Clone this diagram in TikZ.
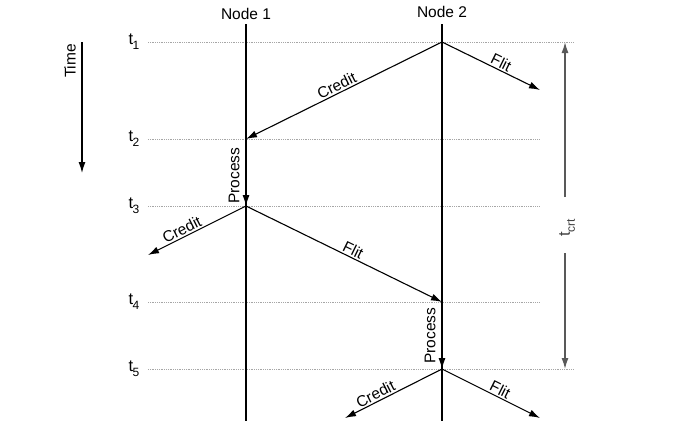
\documentclass[tikz,border=0pt]{standalone}
\usepackage{fontspec}
\setmainfont{Liberation Sans}
\usetikzlibrary{arrows.meta,calc}
\newcommand{\tsub}[1]{t\kern-0.5pt\raisebox{-5pt}{\fontsize{12}{12}\selectfont #1}}
\begin{document}
\begin{tikzpicture}[x=1pt,y=-1pt,
  lbl/.style={font=\fontsize{15.5}{17}\selectfont, inner sep=1.5pt},
  tl/.style={font=\fontsize{16.5}{17}\selectfont, inner sep=0pt},
  life/.style={line width=2.2pt},
  tline/.style={gray!70, line width=0.8pt, densely dotted},
  msg/.style={line width=1.1pt, -{Latex[length=11pt,width=7pt]}},
  crt/.style={line width=1.4pt, black!65, -{Latex[length=11pt,width=7pt]}}]
\useasboundingbox (0,0) rectangle (677,429);
% time lines
\coordinate (l1) at (148,42); \coordinate (r1) at (573,42);
\coordinate (l2) at (148,139); \coordinate (r2) at (540,139);
\coordinate (l3) at (148,206); \coordinate (r3) at (540,206);
\coordinate (l4) at (148,302); \coordinate (r4) at (540,302);
\coordinate (l5) at (148,369); \coordinate (r5) at (573,369);
\foreach \i in {1,...,5} {\draw[tline] (l\i) -- (r\i);}
\node[tl] (t1) at (134,42) {\tsub{1}};
\node[tl] (t2) at (134,139) {\tsub{2}};
\node[tl] (t3) at (134,206) {\tsub{3}};
\node[tl] (t4) at (134,302) {\tsub{4}};
\node[tl] (t5) at (134,369) {\tsub{5}};
% node lines
\node[lbl] (n1) at (246,14) {Node 1};
\node[lbl] (n2) at (442,12) {Node 2};
\coordinate (n1t) at (246,24);
\coordinate (n2t) at (442,24);
\coordinate (n1b) at (246,421);
\coordinate (n2b) at (442,421);
\draw[life] (n1t) -- (n1b);
\draw[life] (n2t) -- (n2b);
% event points
\coordinate (a1) at (442,42);
\coordinate (b2) at (246,139);
\coordinate (b3) at (246,206);
\coordinate (a4) at (442,302);
\coordinate (a5) at (442,369);
\coordinate (f1) at (540,90);
\coordinate (c3) at (148,255);
\coordinate (c5) at (345,418);
\coordinate (f5) at (540,418);
% messages
\draw[msg] (a1) -- node[lbl, above, sloped, pos=0.52] {Credit} (b2);
\draw[msg] (a1) -- node[lbl, above, sloped, pos=0.57] {Flit} (f1);
\draw[msg] (b2) -- (b3);
\node[lbl, rotate=90] (p1) at ($(b2)!0.5!(b3)+(-12,3)$) {Process};
\draw[msg] (b3) -- node[lbl, above, sloped, pos=0.62] {Credit} (c3);
\draw[msg] (b3) -- node[lbl, above, sloped, pos=0.53] {Flit} (a4);
\draw[msg] (a4) -- (a5);
\node[lbl, rotate=90] (p2) at ($(a4)!0.5!(a5)+(-12,0)$) {Process};
\draw[msg] (a5) -- node[lbl, above, sloped, pos=0.65] {Credit} (c5);
\draw[msg] (a5) -- node[lbl, above, sloped, pos=0.56] {Flit} (f5);
% time arrow
\node[lbl, rotate=90] (time) at (70,61) {Time};
\coordinate (ta) at (82,42);
\coordinate (tb) at (82,173);
\draw[line width=1.3pt, -{Latex[length=11pt,width=7pt]}] (ta) -- (tb);
% t_crt
\node[tl, rotate=90, black!75] (tcrt) at (567,228) {\tsub{crt}};
\coordinate (ct) at (565,42);
\coordinate (cb) at (565,369);
\draw[crt] (565,197) -- (ct);
\draw[crt] (565,253) -- (cb);
\end{tikzpicture}
\end{document}
